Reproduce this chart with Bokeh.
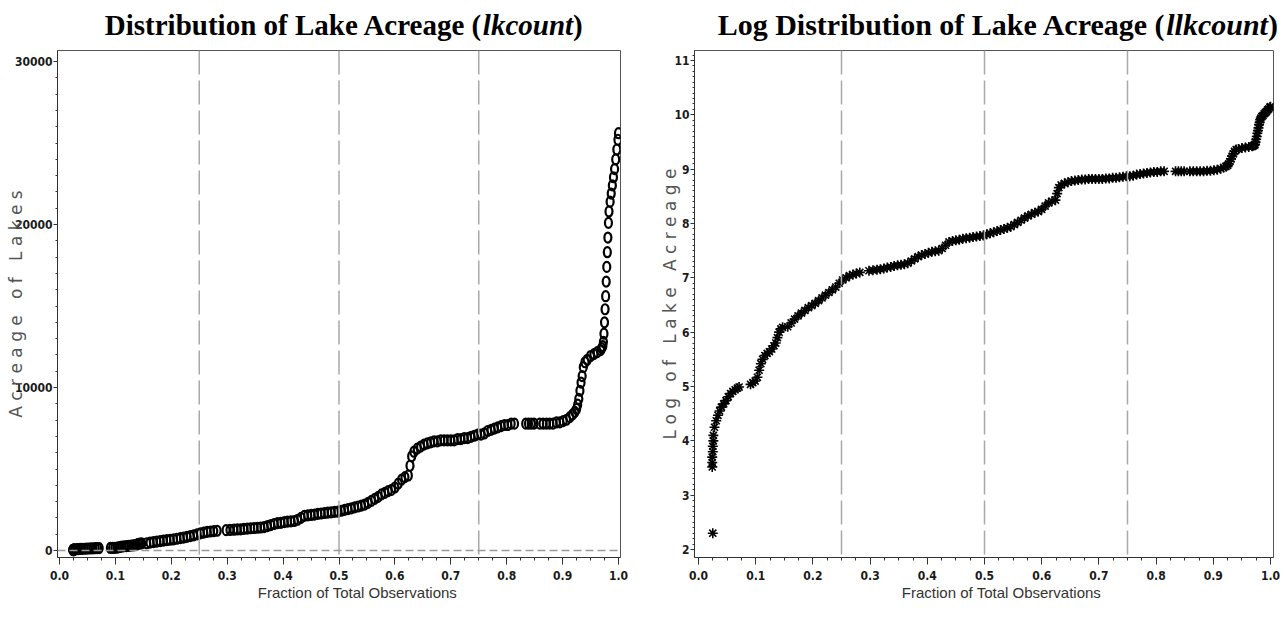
from bokeh.plotting import figure
from bokeh.models import Range1d, FixedTicker, Span, ColumnDataSource
from bokeh.layouts import row, column
from bokeh.core.properties import value
from bokeh.embed import file_html
from bokeh.resources import INLINE

# ---------------- data ----------------
fraction = [
    0.025,
    0.024, 0.024, 0.024, 0.025, 0.025, 0.026, 0.026, 0.028, 0.031, 0.034, 0.037, 0.040,
    0.044, 0.048, 0.052, 0.056, 0.060, 0.064, 0.068, 0.071,
    0.091, 0.095, 0.099, 0.103, 0.106, 0.109, 0.112, 0.116, 0.120, 0.124, 0.128, 0.132,
    0.135, 0.138, 0.141, 0.144, 0.147,
    0.156, 0.162, 0.168, 0.174, 0.180, 0.186, 0.192, 0.198, 0.204, 0.210, 0.216, 0.222,
    0.228, 0.234, 0.240, 0.246, 0.252, 0.258, 0.264, 0.270, 0.276, 0.282,
    0.298, 0.305, 0.312, 0.318, 0.324,
    0.330, 0.336, 0.342, 0.348, 0.354, 0.360, 0.366, 0.372, 0.378, 0.384, 0.390, 0.396,
    0.402, 0.408, 0.414, 0.420, 0.426, 0.432, 0.438, 0.444, 0.450, 0.456, 0.462, 0.468,
    0.474, 0.480, 0.486, 0.492, 0.498, 0.504, 0.510, 0.516, 0.522, 0.528, 0.534, 0.540,
    0.546, 0.552, 0.558, 0.564, 0.570, 0.576, 0.582, 0.588, 0.594, 0.600, 0.606, 0.612,
    0.618, 0.624,
    0.627, 0.630, 0.634,
    0.640, 0.646, 0.652, 0.658, 0.664, 0.670, 0.676, 0.682, 0.688, 0.694, 0.700, 0.706,
    0.712, 0.718, 0.724, 0.730, 0.736, 0.742, 0.748, 0.754, 0.760, 0.766, 0.772, 0.778,
    0.784, 0.790, 0.796, 0.802, 0.808, 0.814,
    0.834, 0.839, 0.844, 0.849,
    0.859, 0.865, 0.871, 0.877, 0.883, 0.889, 0.895, 0.901, 0.907, 0.913, 0.918, 0.922,
    0.925, 0.927, 0.929, 0.931, 0.933, 0.935, 0.937, 0.940, 0.944, 0.950, 0.956, 0.962,
    0.968,
    0.970, 0.972, 0.973, 0.974, 0.975, 0.976, 0.977, 0.978, 0.979, 0.980, 0.981, 0.982,
    0.983, 0.985, 0.987, 0.989, 0.991, 0.993, 0.995, 0.997, 0.999, 1.000,
]

acreage = [
    10,
    34, 37, 40, 45, 49, 55, 60, 70, 79, 87, 95, 101,
    108, 114, 123, 130, 136, 140, 144, 147,
    155, 159, 164, 176, 200, 226, 245, 262, 273, 281, 296, 314,
    330, 365, 403, 428, 441,
    446, 478, 513, 545, 573, 602, 633, 659, 686, 720, 757, 796,
    837, 880, 925, 990, 1054, 1097, 1140, 1165, 1190, 1212,
    1250, 1260, 1275, 1290, 1300,
    1325, 1340, 1365, 1380, 1395, 1410, 1440, 1500, 1560, 1625, 1675, 1700,
    1740, 1775, 1790, 1810, 1885, 2000, 2120, 2160, 2180, 2205, 2250, 2270,
    2300, 2320, 2345, 2370, 2390, 2440, 2490, 2540, 2590, 2650, 2700, 2750,
    2810, 2925, 3040, 3165, 3295, 3440, 3535, 3640, 3715, 3865, 4100, 4350,
    4500, 4600,
    5200, 5780, 6060,
    6250, 6370, 6500, 6570, 6630, 6690, 6690, 6760, 6760, 6760, 6760, 6760,
    6830, 6830, 6900, 6900, 6970, 7040, 7110, 7110, 7180, 7330, 7400, 7480,
    7550, 7630, 7700, 7700, 7780, 7780,
    7780, 7780, 7780, 7780,
    7780, 7780, 7780, 7780, 7780, 7860, 7860, 7940, 8020, 8180, 8350, 8500,
    8680, 8950, 9300, 9800, 10300, 10700, 11250, 11550, 11700, 11930, 12050, 12170,
    12290,
    12420, 12540, 12800, 13300, 14000, 14800, 15600, 16500, 17400, 18300, 19200, 20100,
    20800, 21400, 21900, 22400, 22900, 23400, 24000, 24600, 25200, 25600,
]

log_acreage = [
    2.30,
    3.52, 3.60, 3.70, 3.80, 3.90, 4.00, 4.10, 4.25, 4.37, 4.47, 4.55, 4.62,
    4.68, 4.74, 4.81, 4.87, 4.91, 4.94, 4.97, 4.99,
    5.04, 5.07, 5.10, 5.17, 5.30, 5.42, 5.50, 5.57, 5.61, 5.64, 5.69, 5.75,
    5.80, 5.90, 6.00, 6.06, 6.09,
    6.10, 6.17, 6.24, 6.30, 6.35, 6.40, 6.45, 6.49, 6.53, 6.58, 6.63, 6.68,
    6.73, 6.78, 6.83, 6.90, 6.96, 7.00, 7.04, 7.06, 7.08, 7.10,
    7.13, 7.14, 7.15, 7.16, 7.17,
    7.19, 7.20, 7.22, 7.23, 7.24, 7.25, 7.27, 7.31, 7.35, 7.39, 7.42, 7.44,
    7.46, 7.48, 7.49, 7.50, 7.54, 7.60, 7.66, 7.68, 7.69, 7.70, 7.72, 7.73,
    7.74, 7.75, 7.76, 7.77, 7.78, 7.80, 7.82, 7.84, 7.86, 7.88, 7.90, 7.92,
    7.94, 7.98, 8.02, 8.06, 8.10, 8.14, 8.17, 8.20, 8.22, 8.26, 8.32, 8.38,
    8.41, 8.43,
    8.55, 8.66, 8.71,
    8.74, 8.76, 8.78, 8.79, 8.80, 8.81, 8.81, 8.82, 8.82, 8.82, 8.82, 8.82,
    8.83, 8.83, 8.84, 8.84, 8.85, 8.86, 8.87, 8.87, 8.88, 8.90, 8.91, 8.92,
    8.93, 8.94, 8.95, 8.95, 8.96, 8.96,
    8.96, 8.96, 8.96, 8.96,
    8.96, 8.96, 8.96, 8.96, 8.96, 8.97, 8.97, 8.98, 8.99, 9.01, 9.03, 9.05,
    9.07, 9.10, 9.14, 9.19, 9.24, 9.28, 9.33, 9.36, 9.37, 9.39, 9.40, 9.41,
    9.42,
    9.43, 9.44, 9.46, 9.50, 9.55, 9.60, 9.66, 9.71, 9.76, 9.82, 9.86, 9.91,
    9.94, 9.97, 9.99, 10.02, 10.04, 10.06, 10.09, 10.11, 10.14, 10.15,
]

x_ticks = [0.0, 0.1, 0.2, 0.3, 0.4, 0.5, 0.6, 0.7, 0.8, 0.9, 1.0]
x_tick_labels = ["0.0", "0.1", "0.2", "0.3", "0.4", "0.5", "0.6", "0.7", "0.8", "0.9", "1.0"]
acre_ticks = [0, 10000, 20000, 30000]
acre_tick_labels = ["0", "10000", "20000", "30000"]
log_ticks = [2, 3, 4, 5, 6, 7, 8, 9, 10, 11]
log_tick_labels = ["2", "3", "4", "5", "6", "7", "8", "9", "10", "11"]
quartiles = [0.25, 0.5, 0.75]
acre_reference = 0

title_left = ["Distribution of Lake Acreage (", "lkcount", ")"]
title_right = ["Log Distribution of Lake Acreage (", "llkcount", ")"]
xlabel = "Fraction of Total Observations"
ylabel_left = "A c r e a g e \u00a0 o f \u00a0 L a k e s"
ylabel_right = "L o g \u00a0 o f \u00a0 L a k e \u00a0 A c r e a g e"

# ---------------- styling ----------------
TICK_FONT = "'DejaVu Sans Condensed', 'Liberation Sans'"
XLABEL_FONT = "'DejaVu Sans Condensed', 'Liberation Sans'"
YLABEL_FONT = "DejaVu Sans"
TITLE_FONT = "Liberation Serif"
PAGE_W = 1280
TITLE_H = 50
FRAME_H = 507
FIG_H = 535          # frame + tick area
BOTTOM_H = 43        # strip holding the x-axis titles


def style_axes(p, y_ticks, y_labels, y_minor, ylabel, ylabel_standoff):
    p.xaxis.ticker = FixedTicker(ticks=x_ticks,
                                 minor_ticks=[i * 0.025 for i in range(41)])
    p.xaxis.major_label_overrides = {t: l for t, l in zip(x_ticks, x_tick_labels)}
    p.yaxis.ticker = FixedTicker(ticks=y_ticks, minor_ticks=y_minor)
    p.yaxis.major_label_overrides = {t: l for t, l in zip(y_ticks, y_labels)}
    for ax in (p.xaxis, p.yaxis):
        ax.axis_line_color = "#333333"
        ax.axis_line_width = 1
        ax.major_tick_line_color = "#333333"
        ax.minor_tick_line_color = "#333333"
        ax.major_tick_in = 0
        ax.minor_tick_in = 0
        ax.major_label_text_font = TICK_FONT
        ax.major_label_text_font_style = "bold"
        ax.major_label_text_font_size = "12px"
        ax.major_label_text_color = "#1a1a1a"
    p.xaxis.major_tick_out = 7
    p.xaxis.minor_tick_out = 3
    p.xaxis.major_label_standoff = 6
    p.yaxis.major_tick_out = 4
    p.yaxis.minor_tick_out = 2
    p.yaxis.major_label_standoff = 1
    p.yaxis.axis_label = ylabel
    p.yaxis.axis_label_text_font = YLABEL_FONT
    p.yaxis.axis_label_text_font_style = "normal"
    p.yaxis.axis_label_text_font_size = "17px"
    p.yaxis.axis_label_text_color = "#555555"
    p.yaxis.axis_label_standoff = ylabel_standoff
    p.xgrid.visible = False
    p.ygrid.visible = False
    p.outline_line_color = "#555555"
    p.outline_line_width = 1


def add_refs(p):
    for q in quartiles:
        p.add_layout(Span(location=q, dimension="height", line_color="#a8a8a8",
                          line_width=1.5, line_dash="24 6"))


def strip(height):
    s = figure(width=PAGE_W, height=height, output_backend="svg", toolbar_location=None,
               x_range=Range1d(0, PAGE_W), y_range=Range1d(height, 0),
               x_axis_type=None, y_axis_type=None, min_border=0,
               min_border_left=0, min_border_right=0, min_border_top=0,
               min_border_bottom=0, background_fill_color="white",
               border_fill_color="white")
    s.xgrid.visible = False
    s.ygrid.visible = False
    s.outline_line_color = None
    return s


# ---------------- left panel ----------------
# page px: x=0 -> 59, x=1 -> 618 ; y=0 -> 550, 10000 -> 387 ; frame 57..620 x 50..557
LX0, LXS = 59.0, 559.0
LY0, LYS = 550.0, 163.0 / 10000.0
lx = lambda px: (px - LX0) / LXS
ly = lambda py: (LY0 - py) / LYS

left = figure(width=657, height=FIG_H, output_backend="svg", toolbar_location=None,
              min_border_left=57, min_border_right=37, min_border_top=0,
              min_border_bottom=FIG_H - FRAME_H,
              x_range=Range1d(lx(57), lx(620)), y_range=Range1d(ly(557), ly(50)),
              background_fill_color="white", border_fill_color="white")
style_axes(left, acre_ticks, acre_tick_labels, [i * 1000 for i in range(31)],
           ylabel_left, -14)
add_refs(left)
left.add_layout(Span(location=acre_reference, dimension="width", line_color="#999999",
                     line_width=1.5, line_dash="8 4"))
src = ColumnDataSource(dict(x=fraction, y=acreage))
left.ellipse(x="x", y="y", width=7, height=10, width_units="screen", height_units="screen",
             source=src, fill_color=None, line_color="black", line_width=2.2)

# ---------------- right panel ----------------
RX0, RXS = 698.0, 572.0
RY0, RYS = 549.0, 54.333
rx = lambda px: (px - RX0) / RXS
ry = lambda py: 2 + (RY0 - py) / RYS

right = figure(width=PAGE_W - 657, height=FIG_H, output_backend="svg", toolbar_location=None,
               min_border_left=37, min_border_right=PAGE_W - 1273, min_border_top=0,
               min_border_bottom=FIG_H - FRAME_H,
               x_range=Range1d(rx(694), rx(1273)), y_range=Range1d(ry(557), ry(50)),
               background_fill_color="white", border_fill_color="white")
style_axes(right, log_ticks, log_tick_labels, [2 + i * 0.1 for i in range(93)],
           ylabel_right, -9)
add_refs(right)
src2 = ColumnDataSource(dict(x=fraction, y=log_acreage))
right.scatter(x="x", y="y", marker="asterisk", size=10, source=src2,
              line_color="black", line_width=1.6)

# ---------------- titles (own strip, page-pixel coordinates) ----------------
top = strip(TITLE_H)
BASE = 24


def add_title(s, parts, size, centre, w_main, w_ital):
    kw = dict(text_font=value(TITLE_FONT), text_font_size=f"{size}px",
              text_baseline="alphabetic", text_color="black")
    total = (w_main + w_ital + 0.333) * size
    split = centre - total / 2 + w_main * size
    s.text(x=[split], y=[BASE], text=[parts[0]], text_font_style="bold",
           text_align="right", **kw)
    s.text(x=[split], y=[BASE], text=[parts[1]], text_font_style="bold italic",
           text_align="left", **kw)
    s.text(x=[split + w_ital * size], y=[BASE], text=[parts[2]], text_font_style="bold",
           text_align="left", **kw)


add_title(top, title_left, 29, 343, 13.054, 3.112)
add_title(top, title_right, 30, 997, 14.971, 3.390)

# ---------------- x-axis titles (own strip) ----------------
bottom = strip(BOTTOM_H)
XL_Y = 592 - (TITLE_H + FIG_H)
bottom.text(x=[357, 1001], y=[XL_Y, XL_Y], text=[xlabel, xlabel],
            text_font=value("Liberation Sans"), text_font_size="15px",
            text_color="#333333", text_align="center", text_baseline="middle")

layout = column(top, row(left, right), bottom)
open("out.html", "w").write(file_html(layout, INLINE))
